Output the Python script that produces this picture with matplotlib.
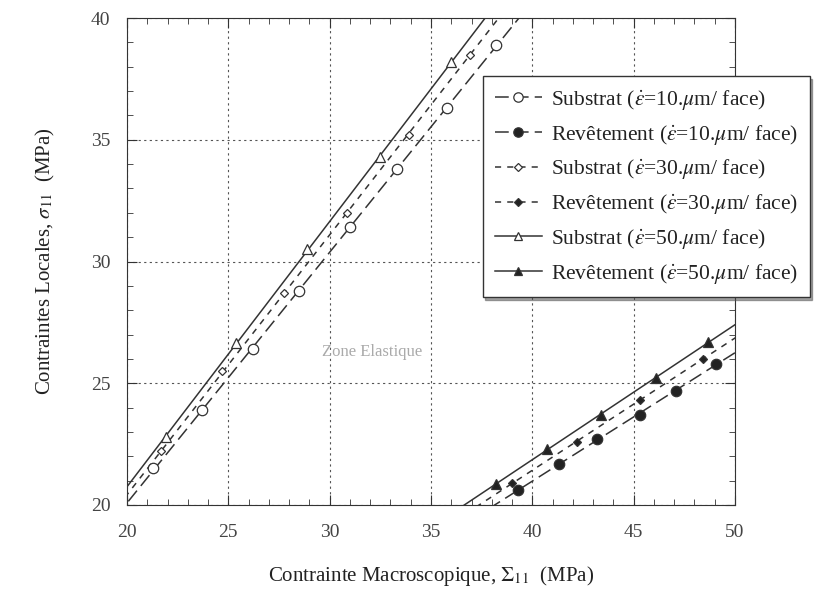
import numpy as np
import matplotlib.pyplot as plt
from matplotlib.lines import Line2D
from matplotlib.ticker import MultipleLocator

plt.rcParams['font.family'] = ['Liberation Serif', 'DejaVu Serif']
plt.rcParams['mathtext.fontset'] = 'stix'

# Substrat (upper branch)
sub10_x = [21.3, 23.7, 26.2, 28.5, 31.0, 33.3, 35.8, 38.2]
sub10_y = [21.5, 23.9, 26.4, 28.8, 31.4, 33.8, 36.3, 38.9]
sub30_x = [21.7, 24.7, 27.75, 30.85, 33.9, 36.9]
sub30_y = [22.2, 25.5, 28.7, 32.0, 35.2, 38.5]
sub50_x = [21.9, 25.4, 28.9, 32.5, 36.0]
sub50_y = [22.8, 26.65, 30.5, 34.3, 38.2]

# Revetement (lower branch)
rev10_x = [39.3, 41.3, 43.2, 45.3, 47.1, 49.05]
rev10_y = [20.6, 21.7, 22.7, 23.7, 24.7, 25.8]
rev30_x = [39.0, 42.2, 45.3, 48.4]
rev30_y = [20.9, 22.6, 24.3, 26.0]
rev50_x = [38.2, 40.7, 43.4, 46.1, 48.65]
rev50_y = [20.86, 22.3, 23.7, 25.2, 26.7]

labels = [r'Substrat ($\dot{\varepsilon}$=10.$\mu$m/ face)',
          r'Revêtement ($\dot{\varepsilon}$=10.$\mu$m/ face)',
          r'Substrat ($\dot{\varepsilon}$=30.$\mu$m/ face)',
          r'Revêtement ($\dot{\varepsilon}$=30.$\mu$m/ face)',
          r'Substrat ($\dot{\varepsilon}$=50.$\mu$m/ face)',
          r'Revêtement ($\dot{\varepsilon}$=50.$\mu$m/ face)']

long_dash = (0, (9, 4))
short_dash = (0, (4, 4))

series = [
    (sub10_x, sub10_y, 'o', 'white', 7.5, long_dash),
    (rev10_x, rev10_y, 'o', '#222222', 7.5, long_dash),
    (sub30_x, sub30_y, 'D', 'white', 4.5, short_dash),
    (rev30_x, rev30_y, 'D', '#222222', 4.5, short_dash),
    (sub50_x, sub50_y, '^', 'white', 7, '-'),
    (rev50_x, rev50_y, '^', '#222222', 7, '-'),
]

fig = plt.figure(figsize=(8.38, 5.93), dpi=100)
ax = fig.add_axes([0.1516, 0.1484, 0.7255, 0.8212])

xx = np.linspace(15, 55, 50)
handles = []
for (x, y, m, fc, ms, ls), lab in zip(series, labels):
    k, b = np.polyfit(x, y, 1)
    ax.plot(xx, k * xx + b, color='#333333', lw=1.1, ls=ls, zorder=2)
    ax.plot(x, y, ls='none', marker=m, ms=ms, mfc=fc, mec='#333333', mew=0.9, zorder=3)
    handles.append(Line2D([], [], color='#333333', lw=1.1, ls=ls, marker=m, ms=ms * 0.9,
                          mfc=fc, mec='#333333', mew=0.9))

ax.set_xlim(20, 50)
ax.set_ylim(20, 40)
ax.xaxis.set_major_locator(MultipleLocator(5))
ax.yaxis.set_major_locator(MultipleLocator(5))
ax.xaxis.set_minor_locator(MultipleLocator(1))
ax.yaxis.set_minor_locator(MultipleLocator(1))
ax.tick_params(which='both', direction='in', top=True, right=True, colors='#333333',
               labelcolor='#444444', labelsize=14)
ax.tick_params(axis='x', pad=14)
ax.tick_params(axis='y', pad=12)
ax.tick_params(which='major', length=7)
ax.tick_params(which='minor', length=4)
ax.grid(True, which='major', ls=(0, (2, 3)), color='#555555', lw=0.8)
for s in ax.spines.values():
    s.set_color('#333333')

ax.text(32.1, 26.3, 'Zone Elastique', color='#aaaaaa', fontsize=12, ha='center', va='center')

ax.set_xlabel(r'Contrainte Macroscopique, $\Sigma_{11}$  (MPa)', fontsize=15, labelpad=16, color='#222222')
ax.set_ylabel(r'Contraintes Locales, $\sigma_{11}$  (MPa)', fontsize=15, labelpad=24, color='#222222')

leg = fig.legend(handles, labels, loc='upper left', bbox_to_anchor=(0.576, 0.872),
                 fontsize=15.5, frameon=True, fancybox=False, shadow=True,
                 handlelength=2.2, handletextpad=0.4, labelspacing=0.5,
                 borderpad=0.55, borderaxespad=0)
leg.get_frame().set_edgecolor('#333333')
leg.get_frame().set_linewidth(1.0)
for t in leg.get_texts():
    t.set_color('#222222')

fig.savefig('out.png', dpi=100)
